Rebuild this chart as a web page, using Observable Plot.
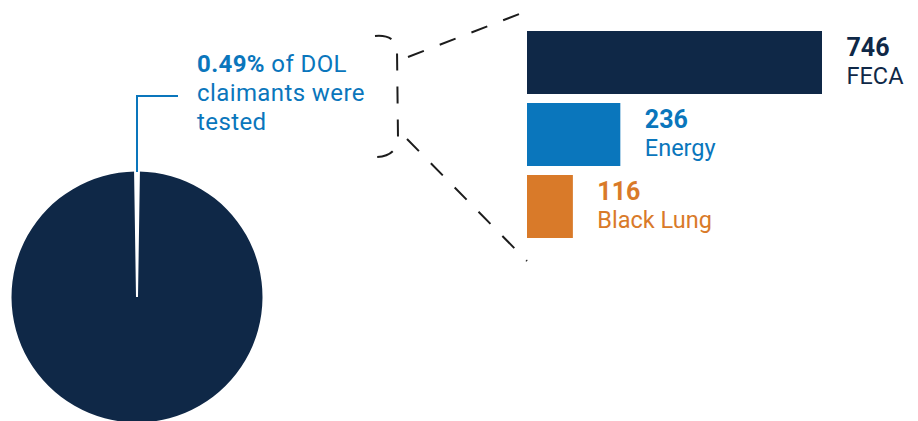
<!DOCTYPE html>
<html>
<head>
<meta charset="utf-8">
<script src="https://cdn.jsdelivr.net/npm/d3@7"></script>
<script src="https://cdn.jsdelivr.net/npm/@observablehq/plot@0.6"></script>
<style>
  html, body { margin: 0; padding: 0; background: #fff; }
  #chart svg { display: block; }
</style>
</head>
<body>
<div id="chart"></div>
<script>
// ---- data ----
const programs = ["FECA", "Energy", "Black Lung"];
const tested = [746, 236, 116];
const programColors = ["#0f2847", "#0a76bc", "#d97a29"];
const pieLabels = ["Tested", "Not tested"];
const pieShares = [0.49, 99.51];
const pieColors = ["#ffffff", "#0f2847"];
const calloutPct = "0.49%";
const calloutLines = [" of DOL", "claimants were", "tested"];

const data = programs.map((p, i) => ({program: p, value: tested[i], color: programColors[i]}));

// ---- layout ----
const W = 918, H = 421;
const pie = {cx: 137, cy: 297, r: 125.5};
const ink = "#1c1c1c";
const blue = "#0a76bc";

const chart = Plot.plot({
  width: W,
  height: H,
  marginLeft: 527,
  marginRight: 96,
  marginTop: 30,
  marginBottom: 182,
  style: {fontFamily: "Roboto, sans-serif", background: "#fff"},
  x: {domain: [0, d3.max(tested)], axis: null},
  y: {domain: programs, paddingInner: 0.12, paddingOuter: 0, axis: null},
  marks: [
    Plot.barX(data, {x: "value", y: "program", fill: "color"}),
    Plot.text(data, {x: "value", y: "program", text: d => String(d.value), dx: 24, dy: -15,
      textAnchor: "start", fill: "color", fontSize: 25, fontWeight: "bold"}),
    Plot.text(data, {x: "value", y: "program", text: "program", dx: 24, dy: 13.5,
      textAnchor: "start", fill: "color", fontSize: 23.5, letterSpacing: 0.5})
  ]
});

const svg = d3.select(chart);
const xs = chart.scale("x"), ys = chart.scale("y");
const barLeft = xs.apply(0);
const barTop = ys.apply(programs[0]);
const barBottom = ys.apply(programs[programs.length - 1]) + ys.bandwidth;

// pie (tested slice centred on 12 o'clock)
const offset = -Math.PI * pieShares[0] / d3.sum(pieShares);
const arcs = d3.pie().sort(null).startAngle(offset).endAngle(offset + 2 * Math.PI)(pieShares);
const arc = d3.arc().innerRadius(0).outerRadius(pie.r);
const g = svg.append("g").attr("transform", `translate(${pie.cx},${pie.cy})`);
g.selectAll("path").data(arcs.slice().reverse()).join("path")
  .attr("d", arc)
  .attr("fill", d => pieColors[d.index])
  .attr("stroke", d => d.index === 0 ? "#fff" : "none")
  .attr("stroke-width", 2);

// leader line
const leaderY = 96;
svg.append("path")
  .attr("d", `M${pie.cx},${pie.cy - pie.r + 0.5}V${leaderY}H178`)
  .attr("fill", "none").attr("stroke", blue).attr("stroke-width", 2);

// callout text
const t = svg.append("text")
  .attr("fill", blue).attr("font-size", 24).attr("letter-spacing", 0.4)
  .attr("text-anchor", "start")
  .attr("font-family", "Roboto, sans-serif");
const l1 = t.append("tspan").attr("x", 197).attr("y", 72);
l1.append("tspan").attr("font-weight", "bold").text(calloutPct);
l1.append("tspan").text(calloutLines[0]);
t.append("tspan").attr("x", 197).attr("y", 101).text(calloutLines[1]);
t.append("tspan").attr("x", 197).attr("y", 130).text(calloutLines[2]);

// bracket
svg.append("path")
  .attr("d", "M375,36 C386,35 396,38 397,50 L398,138 C397,152 388,157 375,157")
  .attr("fill", "none").attr("stroke", ink).attr("stroke-width", 2)
  .attr("stroke-dasharray", "17,16");

// zoom lines
svg.append("path")
  .attr("d", `M408,57 L${barLeft},${barTop - 20}`)
  .attr("fill", "none").attr("stroke", ink).attr("stroke-width", 2)
  .attr("stroke-dasharray", "17,17");
svg.append("path")
  .attr("d", `M407,139 L${barLeft},${barBottom + 23}`)
  .attr("fill", "none").attr("stroke", ink).attr("stroke-width", 2)
  .attr("stroke-dasharray", "17,17");

document.getElementById("chart").appendChild(chart);
</script>
</body>
</html>
